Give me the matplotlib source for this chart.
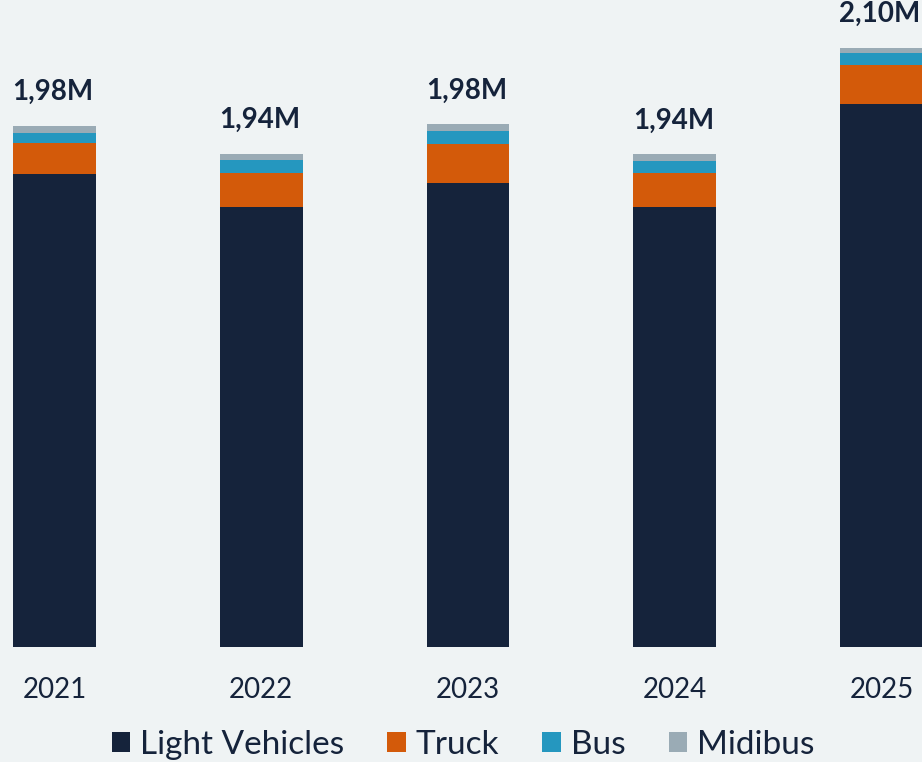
import matplotlib.pyplot as plt
import numpy as np

# данные (тысячи единиц)
years = ["2021", "2022", "2023", "2024", "2025"]
light_vehicles = [1906, 1856, 1892, 1856, 2013]
truck = [47.5, 52, 60, 51, 61]
bus = [15.5, 20, 20, 19, 17]
midibus = [10.7, 9.2, 10.3, 10.3, 8.6]

colors = {
    "Light Vehicles": "#15233b",
    "Truck": "#d35a0a",
    "Bus": "#2597bf",
    "Midibus": "#9aabb5",
}
bg = "#eff3f4"
text_color = "#15233b"

plt.rcParams['font.family'] = ['Lato', 'DejaVu Sans']

fig = plt.figure(figsize=(9.22, 7.62), dpi=100, facecolor=bg)
ax = fig.add_axes([0, 0.151, 1, 0.849])
ax.set_facecolor(bg)

x = np.arange(len(years))
width = 0.40
bottom = np.zeros(len(years))
series = [("Light Vehicles", light_vehicles), ("Truck", truck),
          ("Bus", bus), ("Midibus", midibus)]
handles = []
for name, vals in series:
    b = ax.bar(x, vals, width, bottom=bottom, color=colors[name], label=name)
    handles.append(b)
    bottom += np.array(vals)

# подписи итогов
for xi, total in zip(x, bottom):
    label = f"{total / 1000:.2f}M".replace(".", ",")
    ax.annotate(label, (xi, total), xytext=(-1, 15), textcoords="offset points",
                ha="center", va="bottom", fontsize=20, fontweight="bold",
                color=text_color)

ax.set_xlim(-0.2636, 4.196)
ax.set_ylim(1181, 2173)
ax.set_xticks(x)
ax.set_xticklabels(years, fontsize=20, color=text_color)
ax.tick_params(axis="x", length=0, pad=22)
ax.set_yticks([])
for s in ax.spines.values():
    s.set_visible(False)

fig.legend(handles, [s[0] for s in series], loc="center",
           bbox_to_anchor=(463 / 922, 1 - 745 / 762), ncol=4, frameon=False,
           handlelength=0.55, handleheight=0.55,
           handletextpad=0.3, columnspacing=1.3, labelcolor=text_color,
           prop={'size': 24})

fig.savefig("out.png", dpi=100, facecolor=bg)
